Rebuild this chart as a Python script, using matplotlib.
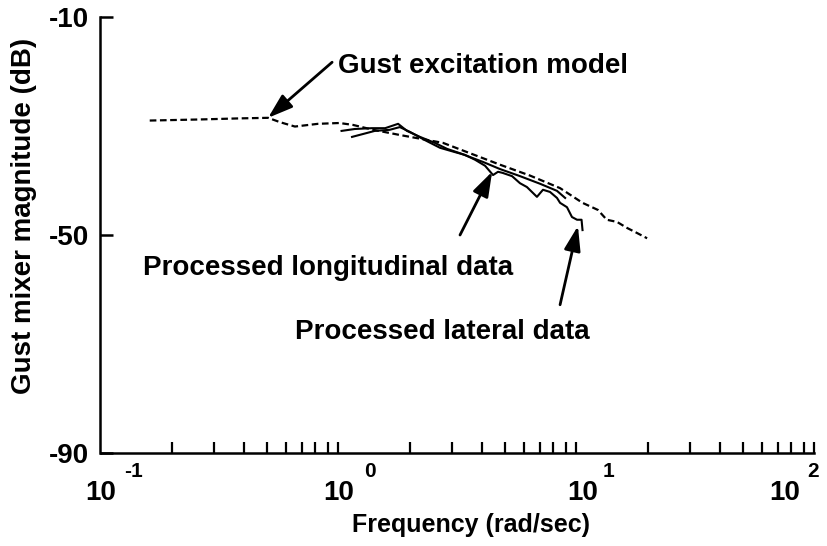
import matplotlib
matplotlib.use("Agg")
import matplotlib.pyplot as plt

plt.rcParams['font.family'] = ['Liberation Sans', 'DejaVu Sans']
plt.rcParams['font.weight'] = 'bold'

# Gust excitation model (dashed)
model_freq = [0.161, 0.262, 0.386, 0.506, 0.568, 0.656, 0.82, 1.01, 1.15, 1.40,
              1.81, 2.75, 3.57, 4.77, 6.38, 8.53, 10.6, 12.3, 13.4, 14.8, 16.3, 17.9, 19.8]
model_db = [-29.0, -28.8, -28.6, -28.5, -29.3, -30.1, -29.6, -29.45, -29.8, -30.7,
            -31.65, -33.1, -35.0, -37.1, -39.1, -41.4, -44.1, -45.4, -47.2, -47.6, -48.7,
            -49.6, -50.6]

# Processed longitudinal data
long_freq = [1.03, 1.17, 1.38, 1.57, 1.78, 1.94, 2.20, 2.54, 2.86, 3.24, 3.67,
             4.05, 4.77, 5.79, 7.03, 8.28, 8.96]
long_db = [-30.9, -30.55, -30.4, -30.4, -29.6, -30.9, -32.0, -33.1, -34.2, -35.0, -35.9,
           -36.6, -37.9, -39.2, -40.6, -41.9, -43.2]

# Processed lateral data
lat_freq = [1.14, 1.26, 1.42, 1.64, 1.81, 2.0, 2.31, 2.67, 3.09, 3.40, 3.75, 4.13,
            4.46, 4.68, 4.89, 5.36, 5.79, 6.19, 6.82, 7.23, 7.74, 8.28, 8.53, 9.12,
            9.57, 10.05, 10.5, 10.6]
lat_db = [-32.0, -31.5, -30.9, -30.7, -30.2, -31.1, -32.6, -34.0, -34.8, -35.3, -36.2, -37.3,
          -39.0, -38.4, -38.6, -39.2, -40.5, -41.2, -43.0, -41.7, -42.1, -43.2, -44.1, -44.9,
          -46.7, -47.2, -47.2, -49.1]

y_ticks = [-10, -50, -90]
decades = [0.1, 1, 10, 100]
exponents = ['-1', '0', '1', '2']

fig = plt.figure(figsize=(8.28, 5.46), dpi=100)
ax = fig.add_axes([100.5 / 828, 1 - 453 / 546, 714 / 828, 436 / 546])

ax.plot(model_freq, model_db, color='black', lw=1.6, ls=(0, (3, 1.6)))
ax.plot(long_freq, long_db, color='black', lw=1.5)
ax.plot(lat_freq, lat_db, color='black', lw=1.5)

ax.set_xscale('log')
ax.set_xlim(0.1, 100)
ax.set_ylim(-90, -10)

for s in ['top', 'right']:
    ax.spines[s].set_visible(False)
for s in ['left', 'bottom']:
    ax.spines[s].set_linewidth(1.8)

ax.set_yticks(y_ticks)
ax.set_yticklabels([str(v) for v in y_ticks], fontsize=20, fontweight='bold')
ax.tick_params(axis='y', direction='in', length=9, width=1.8, pad=8)

# x ticks: every integer multiple in each decade, same length, pointing up
tick_locs = [m * d for d in decades[:-1] for m in range(2, 11)]
ax.set_xticks(tick_locs)
ax.set_xticklabels([])
ax.xaxis.set_minor_locator(matplotlib.ticker.NullLocator())
ax.tick_params(axis='x', direction='in', length=8, width=1.6)

# decade labels written as "10" with a raised exponent
base_dx = [0, 0, 6, -30]
exp_dx = [33, 31, 32, -1]
for d, e, bx, ex in zip(decades, exponents, base_dx, exp_dx):
    ax.annotate('10', xy=(d, 0), xycoords=('data', 'axes fraction'),
                xytext=(bx, -47), textcoords='offset pixels',
                ha='center', va='baseline', fontsize=20, fontweight='bold',
                annotation_clip=False)
    ax.annotate(e, xy=(d, 0), xycoords=('data', 'axes fraction'),
                xytext=(ex, -24), textcoords='offset pixels',
                ha='center', va='baseline', fontsize=15, fontweight='bold',
                annotation_clip=False)

fig.text(471 / 828, 1 - 525 / 546, 'Frequency (rad/sec)', ha='center', va='center',
         fontsize=18, fontweight='bold')
fig.text(24 / 828, 1 - 216 / 546, 'Gust mixer magnitude (dB)', ha='center', va='center',
         rotation=90, fontsize=20, fontweight='bold')

arrow = dict(arrowstyle='-|>,head_length=1.5,head_width=0.5', color='black', lw=2,
             shrinkA=0, shrinkB=0)

ax.annotate('', xy=(0.506, -28.5), xytext=(0.94, -18.3), arrowprops=arrow)
fig.text(338 / 828, 1 - 66 / 546, 'Gust excitation model', ha='left', va='center',
         fontsize=20, fontweight='bold')

ax.annotate('', xy=(4.42, -38.4), xytext=(3.24, -50.0), arrowprops=arrow)
fig.text(143 / 828, 1 - 268 / 546, 'Processed longitudinal data', ha='left', va='center',
         fontsize=20, fontweight='bold')

ax.annotate('', xy=(10.14, -48.35), xytext=(8.53, -62.8), arrowprops=arrow)
fig.text(295 / 828, 1 - 332 / 546, 'Processed lateral data', ha='left', va='center',
         fontsize=20, fontweight='bold')

fig.savefig('out.png', dpi=100)
